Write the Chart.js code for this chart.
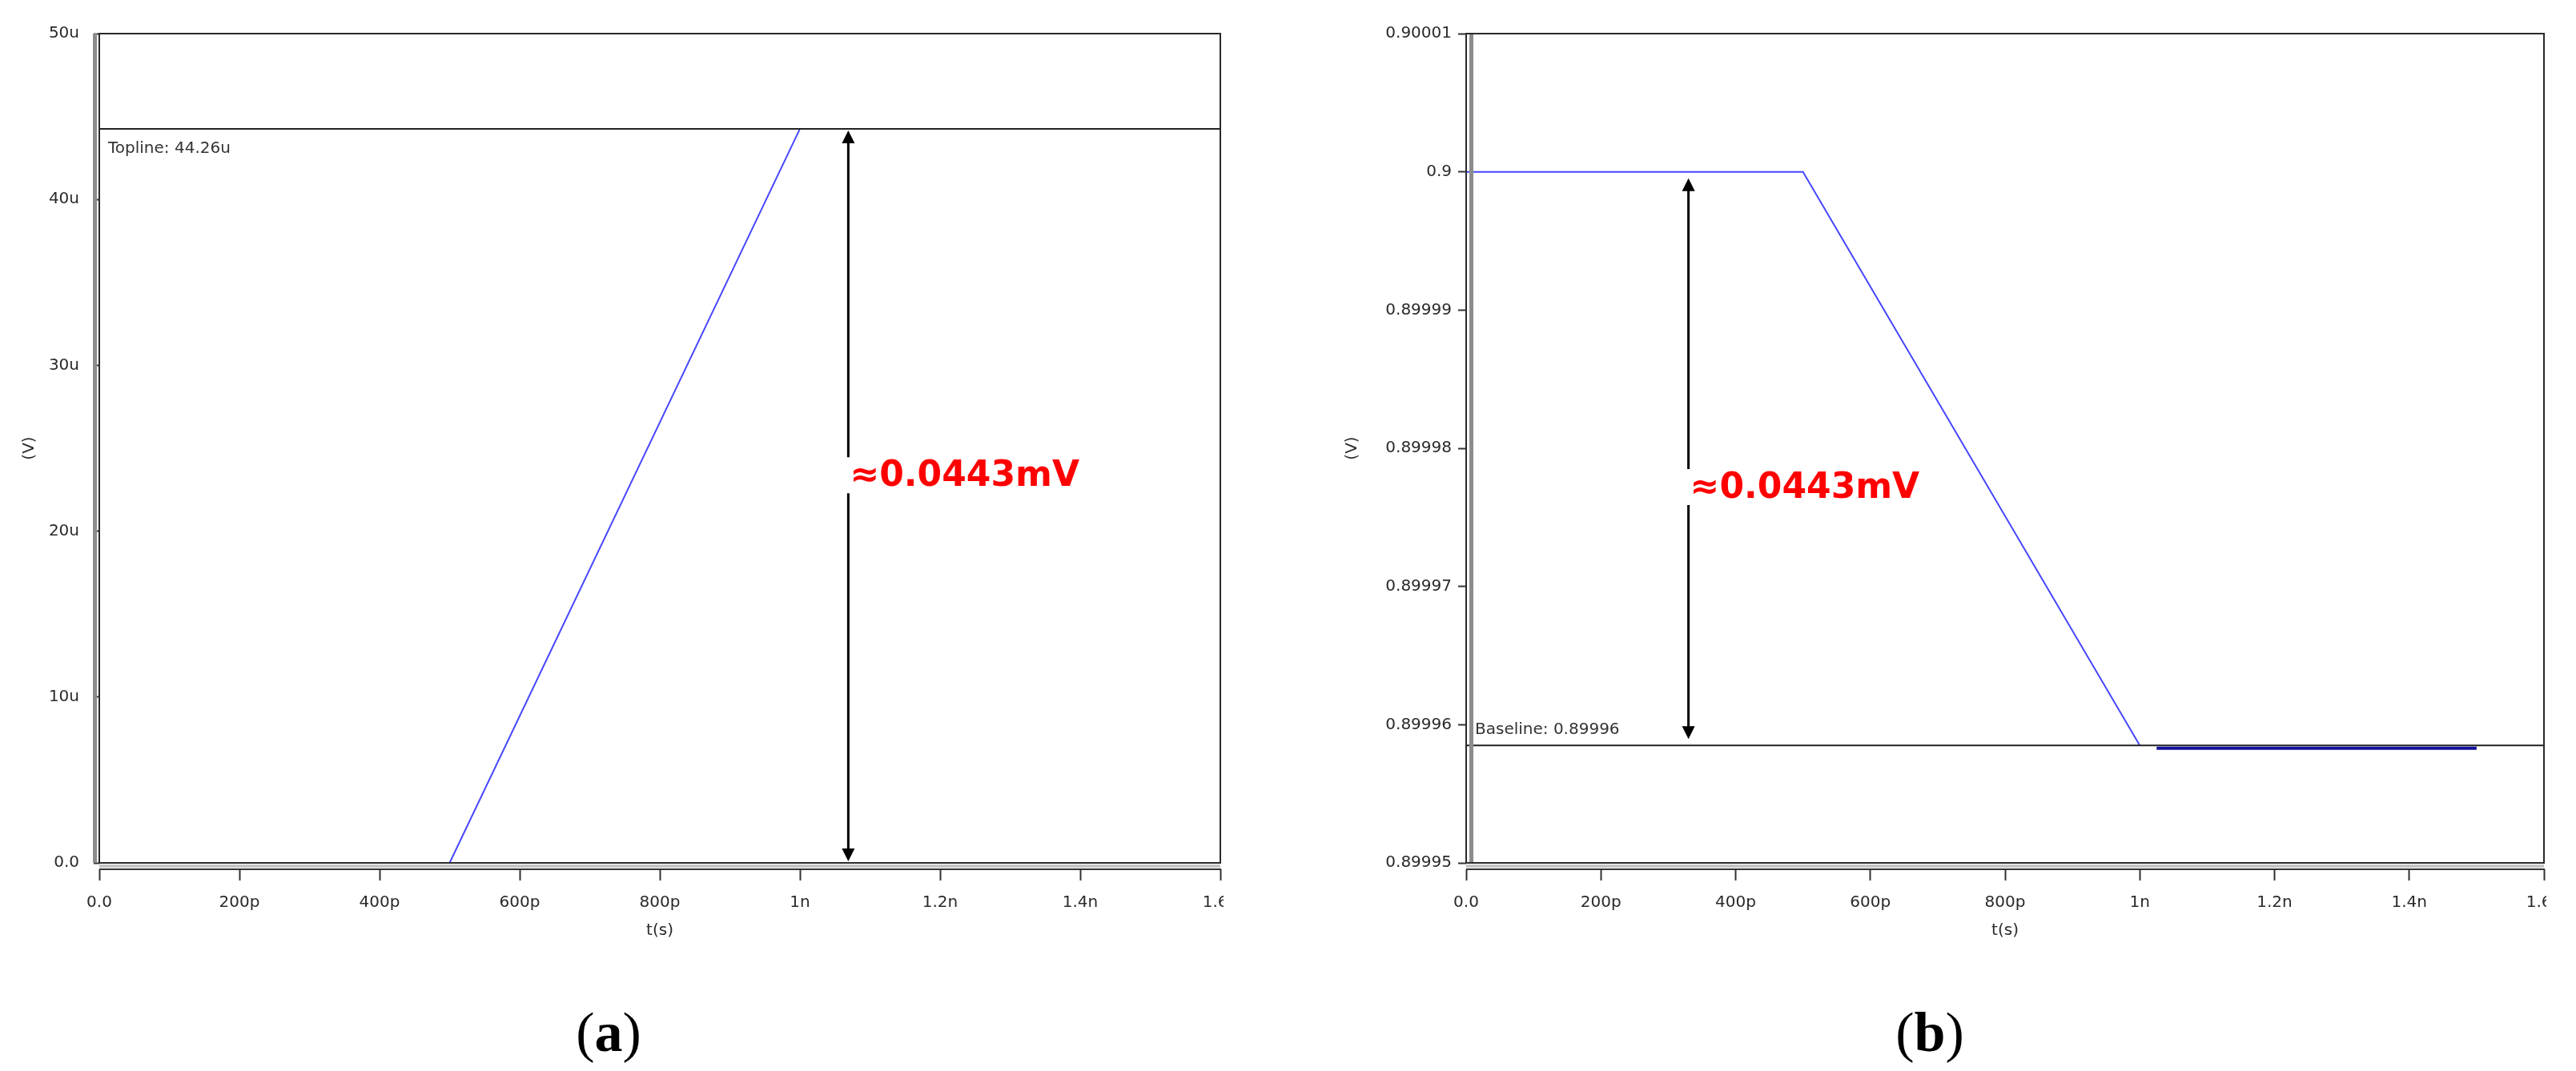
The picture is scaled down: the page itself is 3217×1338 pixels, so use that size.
<!DOCTYPE html>
<html>
<head>
<meta charset="utf-8">
<title>Topline / Baseline</title>
<script src="https://cdn.jsdelivr.net/npm/chart.js@4/dist/chart.umd.min.js"></script>
<style>
  body { margin: 0; background: #fff; width: 3217px; height: 1338px; position: relative; overflow: hidden; }
  canvas { position: absolute; top: 0; }
  #chart-a { left: 0; }
  #chart-b { left: 1600px; }
  .cap { position: absolute; top: 1250px; transform: translateX(-50%);
         font-family: "Liberation Serif", "DejaVu Serif", serif; font-size: 70px; line-height: 80px; color: #000; }
</style>
</head>
<body>
<canvas id="chart-a" width="1528" height="1200"></canvas>
<canvas id="chart-b" width="1580" height="1200"></canvas>
<div class="cap" style="left:760px">(<b>a</b>)</div>
<div class="cap" style="left:2410px">(<b>b</b>)</div>
<script>
// time in ps, (a) in uV, (b) in V
const timeTicks = [0, 200, 400, 600, 800, 1000, 1200, 1400, 1600];
const timeLabels = ["0.0", "200p", "400p", "600p", "800p", "1n", "1.2n", "1.4n", "1.6n"];

const timeA = [0, 500, 1000];
const voltA = [0, 0, 44.26];
const voltTicksA = [0, 10, 20, 30, 40, 50];
const voltLabelsA = ["0.0", "10u", "20u", "30u", "40u", "50u"];
const toplineA = 44.26;

const timeB = [0, 500, 1000];
const voltB = [0.9, 0.9, 0.8999585];
const timeB2 = [1025, 1500];
const voltB2 = [0.8999583, 0.8999583];
const voltTicksB = [0.89995, 0.89996, 0.89997, 0.89998, 0.89999, 0.9, 0.90001];
const voltLabelsB = ["0.89995", "0.89996", "0.89997", "0.89998", "0.89999", "0.9", "0.90001"];
const baselineB = 0.8999585;

const font = { family: "'DejaVu Sans', sans-serif", size: 20 };
const ink = "#2a2a2a";

function pts(xs, ys) {
  return xs.map((x, i) => ({ x: x, y: ys[i] }));
}

function timeAxis() {
  return {
    type: "linear", min: 0, max: 1600,
    afterBuildTicks: s => { s.ticks = timeTicks.map(v => ({ value: v })); },
    afterFit: s => { s.height = 100; s.paddingLeft = 0; s.paddingRight = 0; },
    ticks: { font, color: ink, padding: 16, maxRotation: 0, autoSkip: false,
             callback: (v, i) => timeLabels[i] },
    grid: { drawOnChartArea: false, tickLength: 22, tickColor: "#333", tickWidth: 2,
            tickBorderDash: [0, 8, 14, 100] },
    border: { display: false },
    title: { display: true, text: "t(s)", font, color: ink, padding: { top: 0, bottom: 3 } },
  };
}

function voltAxis(min, max, ticks, labels, width, tickLen, pad, dash, titlePad) {
  return {
    type: "linear", min: min, max: max,
    afterBuildTicks: s => { s.ticks = ticks.map(v => ({ value: v })); },
    afterFit: s => { s.width = width; },
    ticks: { font, color: ink, padding: pad, autoSkip: false,
             callback: (v, i) => labels[i] },
    grid: { drawOnChartArea: false, tickLength: tickLen, tickColor: "#333", tickWidth: 2,
            tickBorderDash: dash },
    border: { display: false },
    title: { display: true, text: "(V)", font, color: ink, padding: { top: titlePad, bottom: 0 } },
  };
}

// plot frame, gray axis band and the second axis line under the plot
const frame = {
  id: "frame",
  afterDraw(chart, args, o) {
    const { ctx, chartArea: a } = chart;
    ctx.save();
    ctx.fillStyle = "#8c8c8c";
    ctx.fillRect(a.left + o.bandX, a.top, 5, a.bottom - a.top);
    ctx.fillStyle = "#c4c4c4";
    ctx.fillRect(a.left, a.bottom + 2, a.right - a.left, 4);
    ctx.fillStyle = "#333";
    ctx.fillRect(a.left, a.bottom + 7, a.right - a.left + 1, 2);
    ctx.strokeStyle = "#2a2a2a";
    ctx.lineWidth = 2;
    ctx.strokeRect(a.left, a.top, a.right - a.left, a.bottom - a.top);
    ctx.restore();
  }
};

// reference line with its label, plus the measuring double arrow
const marks = {
  id: "marks",
  afterDatasetsDraw(chart, args, o) {
    const { ctx, chartArea: a, scales: { x, y } } = chart;
    ctx.save();
    const ly = y.getPixelForValue(o.level);
    ctx.strokeStyle = "#222";
    ctx.lineWidth = 2;
    ctx.beginPath();
    ctx.moveTo(a.left, ly);
    ctx.lineTo(a.right, ly);
    ctx.stroke();
    ctx.fillStyle = "#333";
    ctx.font = "20px 'DejaVu Sans'";
    ctx.textBaseline = "alphabetic";
    ctx.fillText(o.levelText, a.left + 11, ly + o.levelTextDy);

    const ax = x.getPixelForValue(o.arrowT);
    const y1 = y.getPixelForValue(o.from) + o.inset;
    const y2 = y.getPixelForValue(o.to) - o.inset;
    const ty = y.getPixelForValue(o.textY);
    ctx.strokeStyle = "#000";
    ctx.fillStyle = "#000";
    ctx.lineWidth = 3;
    ctx.beginPath();
    ctx.moveTo(ax, y1 + 12); ctx.lineTo(ax, ty - 24);
    ctx.moveTo(ax, ty + 21); ctx.lineTo(ax, y2 - 12);
    ctx.stroke();
    ctx.beginPath();
    ctx.moveTo(ax, y1); ctx.lineTo(ax - 8, y1 + 16); ctx.lineTo(ax + 8, y1 + 16); ctx.closePath();
    ctx.moveTo(ax, y2); ctx.lineTo(ax - 8, y2 - 16); ctx.lineTo(ax + 8, y2 - 16); ctx.closePath();
    ctx.fill();

    ctx.fillStyle = "#ff0000";
    ctx.font = "bold 44px 'DejaVu Sans'";
    ctx.textBaseline = "middle";
    ctx.fillText(o.text, ax + 2, ty);
    ctx.restore();
  }
};

new Chart(document.getElementById("chart-a"), {
  type: "line",
  data: {
    datasets: [{
      data: pts(timeA, voltA),
      borderColor: "#4646ff", borderWidth: 2, pointRadius: 0, tension: 0,
    }],
  },
  options: {
    responsive: false, animation: false, events: [],
    layout: { padding: { left: 0, top: 42, right: 4, bottom: 22 } },
    scales: {
      x: timeAxis(),
      y: voltAxis(0, 50, voltTicksA, voltLabelsA, 124, 14, 11, [0, 7, 7, 100], 25),
    },
    plugins: {
      legend: { display: false },
      tooltip: { enabled: false },
      frame: { bandX: -8 },
      marks: {
        level: toplineA, levelText: "Topline: 44.26u", levelTextDy: 30,
        arrowT: 1069, from: toplineA, to: 0, inset: 2, textY: 23.3, text: "≈0.0443mV",
      },
    },
  },
  plugins: [marks, frame],
});

new Chart(document.getElementById("chart-b"), {
  type: "line",
  data: {
    datasets: [
      {
        data: pts(timeB, voltB),
        borderColor: "#4646ff", borderWidth: 2, pointRadius: 0, tension: 0,
      },
      {
        data: pts(timeB2, voltB2),
        borderColor: "#12129c", borderWidth: 4, pointRadius: 0, tension: 0,
      },
    ],
  },
  options: {
    responsive: false, animation: false, events: [],
    layout: { padding: { left: 0, top: 42, right: 3, bottom: 22 } },
    scales: {
      x: timeAxis(),
      y: voltAxis(0.89995, 0.90001, voltTicksB, voltLabelsB, 231, 10, 8, [], 77),
    },
    plugins: {
      legend: { display: false },
      tooltip: { enabled: false },
      frame: { bandX: 4 },
      marks: {
        level: baselineB, levelText: "Baseline: 0.89996", levelTextDy: -14,
        arrowT: 330, from: 0.9, to: baselineB, inset: 8, textY: 0.8999771, text: "≈0.0443mV",
      },
    },
  },
  plugins: [marks, frame],
});
</script>
</body>
</html>
